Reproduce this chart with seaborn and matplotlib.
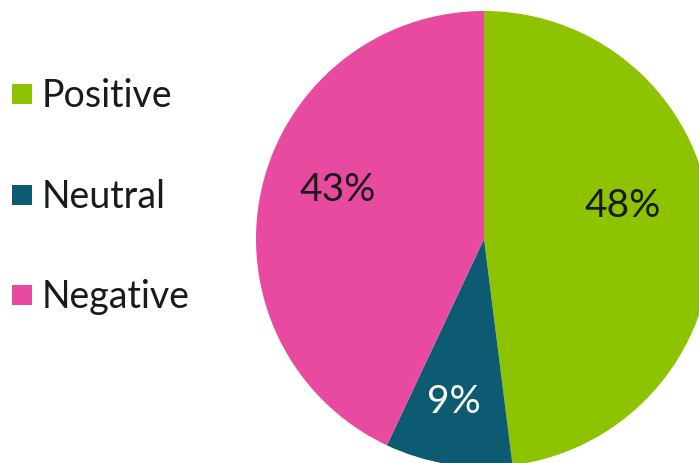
import matplotlib
matplotlib.use("Agg")
import matplotlib.pyplot as plt
import seaborn as sns
from matplotlib.patches import Rectangle

sns.set_theme(style="white")
plt.rcParams['font.family'] = ['Lato', 'DejaVu Sans']

categories = ["Positive", "Neutral", "Negative"]
values = [48, 9, 43]
colors = ["#8DC300", "#0D5A73", "#E84A9F"]
pct_colors = ["#1a1a1a", "white", "#1a1a1a"]
label_pos = [(0.61, 0.15), (-0.13, -0.71), (-0.64, 0.22)]

W, H = 699, 464
fig = plt.figure(figsize=(W / 100, H / 100), dpi=100)
cx, cy, r = 484, 240, 228
ax = fig.add_axes([(cx - r) / W, (H - cy - r) / H, 2 * r / W, 2 * r / H])
wedges, texts, autotexts = ax.pie(values, colors=colors, startangle=90, counterclock=False,
                                  autopct="%d%%", radius=1, wedgeprops=dict(linewidth=0),
                                  textprops=dict(fontsize=28))
for t, c, p in zip(autotexts, pct_colors, label_pos):
    t.set_color(c)
    t.set_position(p)
ax.set_xlim(-1, 1)
ax.set_ylim(-1, 1)
ax.set_aspect("equal")
ax.axis("off")

ys = [95, 196, 296]
for cat, col, y in zip(categories, colors, ys):
    fig.patches.append(Rectangle((12 / W, 1 - (y + 10) / H), 20 / W, 20 / H,
                                 transform=fig.transFigure, facecolor=col, edgecolor="none"))
    fig.text(42 / W, 1 - (y + 1) / H, cat, fontsize=27, va="center", ha="left", color="#1a1a1a")

fig.savefig("out.png", dpi=100)
